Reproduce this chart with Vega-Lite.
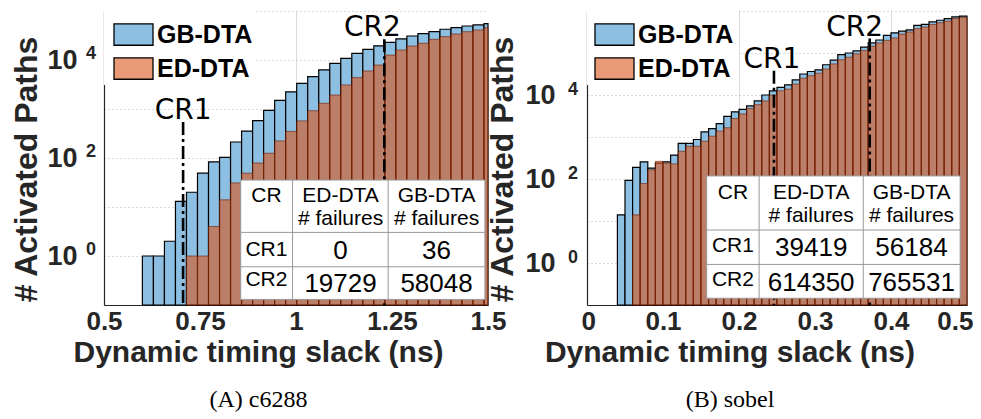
{
  "$schema": "https://vega.github.io/schema/vega-lite/v6.json",
  "background": "white",
  "padding": {"left": 10, "top": 11, "right": 5, "bottom": 5},
  "bounds": "flush",
  "spacing": 99,
  "config": {"view": {"stroke": null}, "font": "Liberation Sans"},
  "resolve": {"scale": {"color": "independent"}, "legend": {"color": "independent"}},
  "datasets": {
    "c6288": [
      {"lo": 0.6, "hi": 0.6287, "gb": 1, "ed": 0},
      {"lo": 0.6287, "hi": 0.6574, "gb": 1, "ed": 0},
      {"lo": 0.6574, "hi": 0.6861, "gb": 2, "ed": 0},
      {"lo": 0.6861, "hi": 0.7148, "gb": 13, "ed": 0},
      {"lo": 0.7148, "hi": 0.7435, "gb": 20, "ed": 1},
      {"lo": 0.7435, "hi": 0.7722, "gb": 49, "ed": 1},
      {"lo": 0.7722, "hi": 0.8009, "gb": 83, "ed": 4},
      {"lo": 0.8009, "hi": 0.8296, "gb": 103, "ed": 14},
      {"lo": 0.8296, "hi": 0.8583, "gb": 212, "ed": 31},
      {"lo": 0.8583, "hi": 0.887, "gb": 355, "ed": 49},
      {"lo": 0.887, "hi": 0.9157, "gb": 577, "ed": 79},
      {"lo": 0.9157, "hi": 0.9444, "gb": 940, "ed": 125},
      {"lo": 0.9444, "hi": 0.9731, "gb": 1500, "ed": 223},
      {"lo": 0.9731, "hi": 1.0018, "gb": 2230, "ed": 348},
      {"lo": 1.0018, "hi": 1.0305, "gb": 3330, "ed": 572},
      {"lo": 1.0305, "hi": 1.0592, "gb": 4570, "ed": 920},
      {"lo": 1.0592, "hi": 1.0879, "gb": 6310, "ed": 1310},
      {"lo": 1.0879, "hi": 1.1166, "gb": 8530, "ed": 1930},
      {"lo": 1.1166, "hi": 1.1453, "gb": 10800, "ed": 3090},
      {"lo": 1.1453, "hi": 1.174, "gb": 13700, "ed": 4370},
      {"lo": 1.174, "hi": 1.2027, "gb": 16500, "ed": 5980},
      {"lo": 1.2027, "hi": 1.2314, "gb": 19500, "ed": 7900},
      {"lo": 1.2314, "hi": 1.2601, "gb": 23000, "ed": 12600},
      {"lo": 1.2601, "hi": 1.2888, "gb": 27100, "ed": 16000},
      {"lo": 1.2888, "hi": 1.3175, "gb": 30900, "ed": 19300},
      {"lo": 1.3175, "hi": 1.3462, "gb": 34500, "ed": 22000},
      {"lo": 1.3462, "hi": 1.3749, "gb": 37800, "ed": 26400},
      {"lo": 1.3749, "hi": 1.4036, "gb": 42400, "ed": 30000},
      {"lo": 1.4036, "hi": 1.4323, "gb": 45600, "ed": 34000},
      {"lo": 1.4323, "hi": 1.461, "gb": 49400, "ed": 37800},
      {"lo": 1.461, "hi": 1.4897, "gb": 52000, "ed": 40900},
      {"lo": 1.4897, "hi": 1.5, "gb": 55000, "ed": 45600}
    ],
    "sobel": [
      {"lo": 0.04, "hi": 0.05, "gb": 14, "ed": 0},
      {"lo": 0.05, "hi": 0.06, "gb": 93, "ed": 0},
      {"lo": 0.06, "hi": 0.07, "gb": 190, "ed": 14},
      {"lo": 0.07, "hi": 0.08, "gb": 257, "ed": 78},
      {"lo": 0.08, "hi": 0.09, "gb": 182, "ed": 166},
      {"lo": 0.09, "hi": 0.1, "gb": 240, "ed": 263},
      {"lo": 0.1, "hi": 0.11, "gb": 257, "ed": 240},
      {"lo": 0.11, "hi": 0.12, "gb": 372, "ed": 229},
      {"lo": 0.12, "hi": 0.13, "gb": 708, "ed": 457},
      {"lo": 0.13, "hi": 0.14, "gb": 708, "ed": 603},
      {"lo": 0.14, "hi": 0.15, "gb": 871, "ed": 603},
      {"lo": 0.15, "hi": 0.16, "gb": 1318, "ed": 794},
      {"lo": 0.16, "hi": 0.17, "gb": 1585, "ed": 1047},
      {"lo": 0.17, "hi": 0.18, "gb": 2089, "ed": 1380},
      {"lo": 0.18, "hi": 0.19, "gb": 3090, "ed": 1660},
      {"lo": 0.19, "hi": 0.2, "gb": 3981, "ed": 2754},
      {"lo": 0.2, "hi": 0.21, "gb": 4571, "ed": 3548},
      {"lo": 0.21, "hi": 0.22, "gb": 5495, "ed": 4786},
      {"lo": 0.22, "hi": 0.23, "gb": 7244, "ed": 5888},
      {"lo": 0.23, "hi": 0.24, "gb": 10000, "ed": 7244},
      {"lo": 0.24, "hi": 0.25, "gb": 12589, "ed": 10000},
      {"lo": 0.25, "hi": 0.26, "gb": 15136, "ed": 12589},
      {"lo": 0.26, "hi": 0.27, "gb": 17378, "ed": 13804},
      {"lo": 0.27, "hi": 0.28, "gb": 22909, "ed": 18197},
      {"lo": 0.28, "hi": 0.29, "gb": 31623, "ed": 25119},
      {"lo": 0.29, "hi": 0.3, "gb": 36308, "ed": 28840},
      {"lo": 0.3, "hi": 0.31, "gb": 39811, "ed": 33113},
      {"lo": 0.31, "hi": 0.32, "gb": 52481, "ed": 41687},
      {"lo": 0.32, "hi": 0.33, "gb": 67608, "ed": 54954},
      {"lo": 0.33, "hi": 0.34, "gb": 91201, "ed": 69183},
      {"lo": 0.34, "hi": 0.35, "gb": 100000, "ed": 79433},
      {"lo": 0.35, "hi": 0.36, "gb": 112202, "ed": 95499},
      {"lo": 0.36, "hi": 0.37, "gb": 138038, "ed": 114815},
      {"lo": 0.37, "hi": 0.38, "gb": 173780, "ed": 144544},
      {"lo": 0.38, "hi": 0.39, "gb": 204174, "ed": 173780},
      {"lo": 0.39, "hi": 0.4, "gb": 263027, "ed": 199526},
      {"lo": 0.4, "hi": 0.41, "gb": 301995, "ed": 229087},
      {"lo": 0.41, "hi": 0.42, "gb": 331131, "ed": 281838},
      {"lo": 0.42, "hi": 0.43, "gb": 354813, "ed": 316228},
      {"lo": 0.43, "hi": 0.44, "gb": 457088, "ed": 380189},
      {"lo": 0.44, "hi": 0.45, "gb": 478630, "ed": 416869},
      {"lo": 0.45, "hi": 0.46, "gb": 549541, "ed": 478630},
      {"lo": 0.46, "hi": 0.47, "gb": 602560, "ed": 524807},
      {"lo": 0.47, "hi": 0.48, "gb": 660693, "ed": 575440},
      {"lo": 0.48, "hi": 0.49, "gb": 724436, "ed": 660693},
      {"lo": 0.49, "hi": 0.5, "gb": 758578, "ed": 707946}
    ],
    "crA": [
      {"cr": "CR1", "slack": 0.706, "top": 540},
      {"cr": "CR2", "slack": 1.23, "top": 26500}
    ],
    "crB": [
      {"cr": "CR1", "slack": 0.246, "top": 38000},
      {"cr": "CR2", "slack": 0.372, "top": 220000}
    ],
    "tableA": [
      {"cr": "CR1", "ed": 0, "gb": 36},
      {"cr": "CR2", "ed": 19729, "gb": 58048}
    ],
    "tableB": [
      {"cr": "CR1", "ed": 39419, "gb": 56184},
      {"cr": "CR2", "ed": 614350, "gb": 765531}
    ],
    "powA": [
      {"p": 1, "e": "0"},
      {"p": 100, "e": "2"},
      {"p": 10000, "e": "4"}
    ],
    "powB": [
      {"p": 1, "e": "0"},
      {"p": 100, "e": "2"},
      {"p": 10000, "e": "4"}
    ]
  },
  "hconcat": [
    {
      "width": 384,
      "height": 294,
      "title": {
        "text": "Dynamic timing slack (ns)",
        "subtitle": "(A) c6288",
        "orient": "bottom",
        "anchor": "middle",
        "frame": "bounds",
        "offset": 4,
        "font": "Liberation Sans",
        "fontSize": 30,
        "fontWeight": "bold",
        "color": "#262626",
        "subtitleFont": "Liberation Serif",
        "subtitleFontSize": 24,
        "subtitleColor": "black",
        "subtitlePadding": 20
      },
      "layer": [
        {
          "layer": [
            {
              "data": {"name": "c6288"},
              "mark": {"type": "bar", "fill": "#8DBFE2", "stroke": "black", "strokeWidth": 1.2},
              "encoding": {
                "x": {
                  "field": "lo", "type": "quantitative",
                  "scale": {"domain": [0.5, 1.5], "nice": false, "zero": false},
                  "axis": {
                    "values": [0.5, 0.75, 1, 1.25, 1.5], "labelExpr": "toString(datum.value)", "title": null,
                    "labelFont": "Liberation Sans", "labelFontWeight": "bold", "labelFontSize": 26,
                    "labelColor": "#262626", "labelPadding": 3, "labelFlush": false, "labelOverlap": false,
                    "ticks": false, "domainColor": "#262626", "domainWidth": 1.2,
                    "grid": true,
                    "gridColor": {"condition": {"test": "datum.value == 1", "value": "#dcdcdc"}, "value": "transparent"}
                  }
                },
                "x2": {"field": "hi"},
                "y": {
                  "field": "gb", "type": "quantitative",
                  "scale": {"type": "log", "domain": [0.1, 100000], "nice": false},
                  "axis": {
                    "values": [0.1, 1, 10, 100, 1000, 10000, 100000],
                    "labelExpr": "datum.value == 1 || datum.value == 100 || datum.value == 10000 ? '10' : ''",
                    "title": "# Activated Paths",
                    "labelFont": "Liberation Sans", "labelFontWeight": "bold", "labelFontSize": 27,
                    "labelColor": "#262626", "labelPadding": 27, "labelBaseline": "middle",
                    "ticks": false, "domainColor": "#262626", "domainWidth": 1.2,
                    "grid": true, "gridDash": [1, 3], "gridColor": "#b4b4b4",
                    "titleFont": "Liberation Sans", "titleFontSize": 32, "titleFontWeight": "bold",
                    "titleColor": "#262626", "titlePadding": 3, "titleY": 158
                  }
                },
                "y2": {"datum": 0.1},
                "color": {
                  "datum": "GB-DTA",
                  "scale": {"domain": ["GB-DTA", "ED-DTA"], "range": ["#8DBFE2", "#E89A76"]},
                  "legend": {
                    "title": null, "orient": "top-left", "offset": 0, "padding": 3,
                    "fillColor": "white",
                    "symbolType": "M-1,-0.55L1,-0.55L1,0.55L-1,0.55Z", "symbolSize": 1521,
                    "symbolOffset": 6, "symbolStrokeWidth": 1.3,
                    "labelFont": "Liberation Sans", "labelFontSize": 25, "labelFontWeight": "bold",
                    "labelColor": "black", "labelOffset": 3, "rowPadding": -8,
                    "encode": {
                      "symbols": {
                        "stroke": {"condition": {"test": "datum.value === 'GB-DTA'", "value": "black"}, "value": "transparent"}
                      }
                    }
                  }
                }
              }
            },
            {
              "data": {"name": "c6288"},
              "transform": [{"filter": "datum.ed > 0"}],
              "mark": {"type": "bar", "fill": "#D95319", "fillOpacity": 0.6, "stroke": "#6e1c00", "strokeOpacity": 0.6, "strokeWidth": 1},
              "encoding": {
                "x": {"field": "lo", "type": "quantitative", "scale": {"domain": [0.5, 1.5], "nice": false, "zero": false}},
                "x2": {"field": "hi"},
                "y": {"field": "ed", "type": "quantitative", "scale": {"type": "log", "domain": [0.1, 100000], "nice": false}},
                "y2": {"datum": 0.1},
                "color": {"datum": "ED-DTA"}
              }
            },
            {
              "data": {"name": "crA"},
              "mark": {"type": "rule", "color": "black", "strokeWidth": 2.6, "strokeDash": [13, 4, 3, 4]},
              "encoding": {
                "x": {"field": "slack", "type": "quantitative", "scale": {"domain": [0.5, 1.5], "nice": false, "zero": false}},
                "y": {"field": "top", "type": "quantitative", "scale": {"type": "log", "domain": [0.1, 100000], "nice": false}},
                "y2": {"datum": 0.1}
              }
            },
            {
              "data": {"name": "crA"},
              "transform": [{"filter": "datum.cr == 'CR1'"}],
              "mark": {"type": "text", "font": "DejaVu Sans", "fontSize": 28, "baseline": "alphabetic", "align": "center", "dy": -3, "color": "black"},
              "encoding": {
                "x": {"field": "slack", "type": "quantitative", "scale": {"domain": [0.5, 1.5], "nice": false, "zero": false}},
                "y": {"field": "top", "type": "quantitative", "scale": {"type": "log", "domain": [0.1, 100000], "nice": false}},
                "text": {"field": "cr"}
              }
            },
            {
              "data": {"name": "crA"},
              "transform": [{"filter": "datum.cr == 'CR2'"}],
              "mark": {"type": "text", "font": "DejaVu Sans", "fontSize": 28, "baseline": "alphabetic", "align": "center", "dy": -3, "dx": -12, "color": "black"},
              "encoding": {
                "x": {"field": "slack", "type": "quantitative", "scale": {"domain": [0.5, 1.5], "nice": false, "zero": false}},
                "y": {"field": "top", "type": "quantitative", "scale": {"type": "log", "domain": [0.1, 100000], "nice": false}},
                "text": {"field": "cr"}
              }
            },
            {
              "data": {"name": "powA"},
              "mark": {"type": "text", "font": "Liberation Sans", "fontWeight": "bold", "fontSize": 18, "color": "#262626", "baseline": "middle", "align": "center", "dx": -13, "dy": -6},
              "encoding": {
                "x": {"datum": 0.5, "type": "quantitative", "scale": {"domain": [0.5, 1.5], "nice": false, "zero": false}},
                "y": {"field": "p", "type": "quantitative", "scale": {"type": "log", "domain": [0.1, 100000], "nice": false}},
                "text": {"field": "e"}
              }
            }
          ]
        },
        {
          "data": {"name": "tableA"},
          "layer": [
            {
              "transform": [{"filter": "datum.cr == 'CR1'"}],
              "mark": {"type": "rect", "fill": "white", "stroke": "#999999", "strokeWidth": 1},
              "encoding": {
                "x": {"datum": 0.356, "type": "quantitative", "scale": {"domain": [0, 1], "nice": false, "zero": false}, "axis": null},
                "x2": {"datum": 0.992},
                "y": {"datum": 0.019, "type": "quantitative", "scale": {"domain": [0, 1], "nice": false, "zero": false}, "axis": null},
                "y2": {"datum": 0.425}
              }
            },
            {
              "transform": [{"filter": "datum.cr == 'CR1'"}],
              "mark": {"type": "rule", "color": "#999999", "strokeWidth": 1},
              "encoding": {
                "x": {"datum": 0.491, "type": "quantitative", "axis": null},
                "y": {"datum": 0.019, "type": "quantitative", "axis": null},
                "y2": {"datum": 0.425}
              }
            },
            {
              "transform": [{"filter": "datum.cr == 'CR1'"}],
              "mark": {"type": "rule", "color": "#999999", "strokeWidth": 1},
              "encoding": {
                "x": {"datum": 0.74, "type": "quantitative", "axis": null},
                "y": {"datum": 0.019, "type": "quantitative", "axis": null},
                "y2": {"datum": 0.425}
              }
            },
            {
              "transform": [{"filter": "datum.cr == 'CR1'"}],
              "mark": {"type": "rule", "color": "#999999", "strokeWidth": 1},
              "encoding": {
                "x": {"datum": 0.356, "type": "quantitative", "axis": null},
                "x2": {"datum": 0.992},
                "y": {"datum": 0.247, "type": "quantitative", "axis": null}
              }
            },
            {
              "transform": [{"filter": "datum.cr == 'CR1'"}],
              "mark": {"type": "rule", "color": "#999999", "strokeWidth": 1},
              "encoding": {
                "x": {"datum": 0.356, "type": "quantitative", "axis": null},
                "x2": {"datum": 0.992},
                "y": {"datum": 0.13, "type": "quantitative", "axis": null}
              }
            },
            {
              "transform": [{"filter": "datum.cr == 'CR1'"}],
              "mark": {"type": "text", "text": "CR", "font": "Liberation Sans", "fontSize": 21, "baseline": "alphabetic", "align": "center", "color": "black"},
              "encoding": {
                "x": {"datum": 0.423, "type": "quantitative", "axis": null},
                "y": {"datum": 0.349, "type": "quantitative", "axis": null}
              }
            },
            {
              "transform": [{"filter": "datum.cr == 'CR1'"}],
              "mark": {"type": "text", "text": ["ED-DTA", "# failures"], "lineHeight": 23, "font": "Liberation Sans", "fontSize": 21, "baseline": "alphabetic", "align": "center", "color": "black"},
              "encoding": {
                "x": {"datum": 0.616, "type": "quantitative", "axis": null},
                "y": {"datum": 0.349, "type": "quantitative", "axis": null}
              }
            },
            {
              "transform": [{"filter": "datum.cr == 'CR1'"}],
              "mark": {"type": "text", "text": ["GB-DTA", "# failures"], "lineHeight": 23, "font": "Liberation Sans", "fontSize": 21, "baseline": "alphabetic", "align": "center", "color": "black"},
              "encoding": {
                "x": {"datum": 0.866, "type": "quantitative", "axis": null},
                "y": {"datum": 0.349, "type": "quantitative", "axis": null}
              }
            },
            {
              "transform": [{"filter": "datum.cr == 'CR1'"}],
              "mark": {"type": "text", "font": "Liberation Sans", "fontSize": 21, "baseline": "alphabetic", "align": "center", "color": "black"},
              "encoding": {
                "x": {"datum": 0.423, "type": "quantitative", "axis": null},
                "y": {"datum": 0.168, "type": "quantitative", "axis": null},
                "text": {"field": "cr", "type": "nominal"}
              }
            },
            {
              "transform": [{"filter": "datum.cr == 'CR2'"}],
              "mark": {"type": "text", "font": "Liberation Sans", "fontSize": 21, "baseline": "alphabetic", "align": "center", "color": "black"},
              "encoding": {
                "x": {"datum": 0.423, "type": "quantitative", "axis": null},
                "y": {"datum": 0.066, "type": "quantitative", "axis": null},
                "text": {"field": "cr", "type": "nominal"}
              }
            },
            {
              "transform": [{"filter": "datum.cr == 'CR1'"}],
              "mark": {"type": "text", "font": "Liberation Sans", "fontSize": 26, "baseline": "alphabetic", "align": "center", "color": "black"},
              "encoding": {
                "x": {"datum": 0.616, "type": "quantitative", "axis": null},
                "y": {"datum": 0.157, "type": "quantitative", "axis": null},
                "text": {"field": "ed", "type": "nominal"}
              }
            },
            {
              "transform": [{"filter": "datum.cr == 'CR1'"}],
              "mark": {"type": "text", "font": "Liberation Sans", "fontSize": 26, "baseline": "alphabetic", "align": "center", "color": "black"},
              "encoding": {
                "x": {"datum": 0.866, "type": "quantitative", "axis": null},
                "y": {"datum": 0.157, "type": "quantitative", "axis": null},
                "text": {"field": "gb", "type": "nominal"}
              }
            },
            {
              "transform": [{"filter": "datum.cr == 'CR2'"}],
              "mark": {"type": "text", "font": "Liberation Sans", "fontSize": 26, "baseline": "alphabetic", "align": "center", "color": "black"},
              "encoding": {
                "x": {"datum": 0.616, "type": "quantitative", "axis": null},
                "y": {"datum": 0.043, "type": "quantitative", "axis": null},
                "text": {"field": "ed", "type": "nominal"}
              }
            },
            {
              "transform": [{"filter": "datum.cr == 'CR2'"}],
              "mark": {"type": "text", "font": "Liberation Sans", "fontSize": 26, "baseline": "alphabetic", "align": "center", "color": "black"},
              "encoding": {
                "x": {"datum": 0.866, "type": "quantitative", "axis": null},
                "y": {"datum": 0.043, "type": "quantitative", "axis": null},
                "text": {"field": "gb", "type": "nominal"}
              }
            }
          ]
        }
      ],
      "resolve": {"scale": {"x": "independent", "y": "independent"}}
    },
    {
      "width": 380,
      "height": 294,
      "title": {
        "text": "Dynamic timing slack (ns)",
        "subtitle": "(B) sobel",
        "orient": "bottom",
        "anchor": "middle",
        "frame": "bounds",
        "offset": 4,
        "font": "Liberation Sans",
        "fontSize": 30,
        "fontWeight": "bold",
        "color": "#262626",
        "subtitleFont": "Liberation Serif",
        "subtitleFontSize": 24,
        "subtitleColor": "black",
        "subtitlePadding": 20
      },
      "layer": [
        {
          "layer": [
            {
              "data": {"name": "sobel"},
              "mark": {"type": "bar", "fill": "#8DBFE2", "stroke": "black", "strokeWidth": 1.2},
              "encoding": {
                "x": {
                  "field": "lo", "type": "quantitative",
                  "scale": {"domain": [0, 0.5], "nice": false, "zero": false},
                  "axis": {
                    "values": [0, 0.1, 0.2, 0.3, 0.4, 0.5], "labelExpr": "toString(datum.value)", "title": null,
                    "labelFont": "Liberation Sans", "labelFontWeight": "bold", "labelFontSize": 26,
                    "labelColor": "#262626", "labelPadding": 3, "labelFlush": true, "labelFlushOffset": 6, "labelOverlap": false,
                    "ticks": false, "domainColor": "#262626", "domainWidth": 1.2,
                    "grid": true,
                    "gridColor": {"condition": {"test": "abs(datum.value - 0.2) < 0.000001 || abs(datum.value - 0.4) < 0.000001", "value": "#dcdcdc"}, "value": "transparent"}
                  }
                },
                "x2": {"field": "hi"},
                "y": {
                  "field": "gb", "type": "quantitative",
                  "scale": {"type": "log", "domain": [0.1, 1000000], "nice": false},
                  "axis": {
                    "values": [0.1, 1, 10, 100, 1000, 10000, 100000, 1000000],
                    "labelExpr": "datum.value == 1 || datum.value == 100 || datum.value == 10000 ? '10' : ''",
                    "title": "# Activated Paths",
                    "labelFont": "Liberation Sans", "labelFontWeight": "bold", "labelFontSize": 27,
                    "labelColor": "#262626", "labelPadding": 32, "labelBaseline": "middle",
                    "ticks": false, "domainColor": "#262626", "domainWidth": 1.2,
                    "grid": true, "gridDash": [1, 3], "gridColor": "#b4b4b4",
                    "titleFont": "Liberation Sans", "titleFontSize": 32, "titleFontWeight": "bold",
                    "titleColor": "#262626", "titlePadding": 5, "titleY": 158
                  }
                },
                "y2": {"datum": 0.1},
                "color": {
                  "datum": "GB-DTA",
                  "scale": {"domain": ["GB-DTA", "ED-DTA"], "range": ["#8DBFE2", "#E89A76"]},
                  "legend": {
                    "title": null, "orient": "top-left", "offset": 0, "padding": 3,
                    "fillColor": "white",
                    "symbolType": "M-1,-0.55L1,-0.55L1,0.55L-1,0.55Z", "symbolSize": 1521,
                    "symbolOffset": 4, "symbolStrokeWidth": 1.3,
                    "labelFont": "Liberation Sans", "labelFontSize": 25, "labelFontWeight": "bold",
                    "labelColor": "black", "labelOffset": 3, "rowPadding": -8,
                    "encode": {
                      "symbols": {
                        "stroke": {"condition": {"test": "datum.value === 'GB-DTA'", "value": "black"}, "value": "transparent"}
                      }
                    }
                  }
                }
              }
            },
            {
              "data": {"name": "sobel"},
              "transform": [{"filter": "datum.ed > 0"}],
              "mark": {"type": "bar", "fill": "#D95319", "fillOpacity": 0.6, "stroke": "#6e1c00", "strokeOpacity": 0.6, "strokeWidth": 1},
              "encoding": {
                "x": {"field": "lo", "type": "quantitative", "scale": {"domain": [0, 0.5], "nice": false, "zero": false}},
                "x2": {"field": "hi"},
                "y": {"field": "ed", "type": "quantitative", "scale": {"type": "log", "domain": [0.1, 1000000], "nice": false}},
                "y2": {"datum": 0.1},
                "color": {"datum": "ED-DTA"}
              }
            },
            {
              "data": {"name": "crB"},
              "mark": {"type": "rule", "color": "black", "strokeWidth": 2.6, "strokeDash": [13, 4, 3, 4]},
              "encoding": {
                "x": {"field": "slack", "type": "quantitative", "scale": {"domain": [0, 0.5], "nice": false, "zero": false}},
                "y": {"field": "top", "type": "quantitative", "scale": {"type": "log", "domain": [0.1, 1000000], "nice": false}},
                "y2": {"datum": 0.1}
              }
            },
            {
              "data": {"name": "crB"},
              "transform": [{"filter": "datum.cr == 'CR1'"}],
              "mark": {"type": "text", "font": "DejaVu Sans", "fontSize": 28, "baseline": "alphabetic", "align": "center", "dy": -3, "dx": -2, "color": "black"},
              "encoding": {
                "x": {"field": "slack", "type": "quantitative", "scale": {"domain": [0, 0.5], "nice": false, "zero": false}},
                "y": {"field": "top", "type": "quantitative", "scale": {"type": "log", "domain": [0.1, 1000000], "nice": false}},
                "text": {"field": "cr"}
              }
            },
            {
              "data": {"name": "crB"},
              "transform": [{"filter": "datum.cr == 'CR2'"}],
              "mark": {"type": "text", "font": "DejaVu Sans", "fontSize": 28, "baseline": "alphabetic", "align": "center", "dy": -3, "dx": -15, "color": "black"},
              "encoding": {
                "x": {"field": "slack", "type": "quantitative", "scale": {"domain": [0, 0.5], "nice": false, "zero": false}},
                "y": {"field": "top", "type": "quantitative", "scale": {"type": "log", "domain": [0.1, 1000000], "nice": false}},
                "text": {"field": "cr"}
              }
            },
            {
              "data": {"name": "powB"},
              "mark": {"type": "text", "font": "Liberation Sans", "fontWeight": "bold", "fontSize": 18, "color": "#262626", "baseline": "middle", "align": "center", "dx": -14, "dy": -5},
              "encoding": {
                "x": {"datum": 0, "type": "quantitative", "scale": {"domain": [0, 0.5], "nice": false, "zero": false}},
                "y": {"field": "p", "type": "quantitative", "scale": {"type": "log", "domain": [0.1, 1000000], "nice": false}},
                "text": {"field": "e"}
              }
            }
          ]
        },
        {
          "data": {"name": "tableB"},
          "layer": [
            {
              "transform": [{"filter": "datum.cr == 'CR1'"}],
              "mark": {"type": "rect", "fill": "white", "stroke": "#999999", "strokeWidth": 1},
              "encoding": {
                "x": {"datum": 0.315, "type": "quantitative", "scale": {"domain": [0, 1], "nice": false, "zero": false}, "axis": null},
                "x2": {"datum": 0.982},
                "y": {"datum": 0.023, "type": "quantitative", "scale": {"domain": [0, 1], "nice": false, "zero": false}, "axis": null},
                "y2": {"datum": 0.439}
              }
            },
            {
              "transform": [{"filter": "datum.cr == 'CR1'"}],
              "mark": {"type": "rule", "color": "#999999", "strokeWidth": 1},
              "encoding": {
                "x": {"datum": 0.453, "type": "quantitative", "axis": null},
                "y": {"datum": 0.023, "type": "quantitative", "axis": null},
                "y2": {"datum": 0.439}
              }
            },
            {
              "transform": [{"filter": "datum.cr == 'CR1'"}],
              "mark": {"type": "rule", "color": "#999999", "strokeWidth": 1},
              "encoding": {
                "x": {"datum": 0.727, "type": "quantitative", "axis": null},
                "y": {"datum": 0.023, "type": "quantitative", "axis": null},
                "y2": {"datum": 0.439}
              }
            },
            {
              "transform": [{"filter": "datum.cr == 'CR1'"}],
              "mark": {"type": "rule", "color": "#999999", "strokeWidth": 1},
              "encoding": {
                "x": {"datum": 0.315, "type": "quantitative", "axis": null},
                "x2": {"datum": 0.982},
                "y": {"datum": 0.255, "type": "quantitative", "axis": null}
              }
            },
            {
              "transform": [{"filter": "datum.cr == 'CR1'"}],
              "mark": {"type": "rule", "color": "#999999", "strokeWidth": 1},
              "encoding": {
                "x": {"datum": 0.315, "type": "quantitative", "axis": null},
                "x2": {"datum": 0.982},
                "y": {"datum": 0.138, "type": "quantitative", "axis": null}
              }
            },
            {
              "transform": [{"filter": "datum.cr == 'CR1'"}],
              "mark": {"type": "text", "text": "CR", "font": "Liberation Sans", "fontSize": 21, "baseline": "alphabetic", "align": "center", "color": "black"},
              "encoding": {
                "x": {"datum": 0.384, "type": "quantitative", "axis": null},
                "y": {"datum": 0.36, "type": "quantitative", "axis": null}
              }
            },
            {
              "transform": [{"filter": "datum.cr == 'CR1'"}],
              "mark": {"type": "text", "text": ["ED-DTA", "# failures"], "lineHeight": 23, "font": "Liberation Sans", "fontSize": 21, "baseline": "alphabetic", "align": "center", "color": "black"},
              "encoding": {
                "x": {"datum": 0.59, "type": "quantitative", "axis": null},
                "y": {"datum": 0.36, "type": "quantitative", "axis": null}
              }
            },
            {
              "transform": [{"filter": "datum.cr == 'CR1'"}],
              "mark": {"type": "text", "text": ["GB-DTA", "# failures"], "lineHeight": 23, "font": "Liberation Sans", "fontSize": 21, "baseline": "alphabetic", "align": "center", "color": "black"},
              "encoding": {
                "x": {"datum": 0.854, "type": "quantitative", "axis": null},
                "y": {"datum": 0.36, "type": "quantitative", "axis": null}
              }
            },
            {
              "transform": [{"filter": "datum.cr == 'CR1'"}],
              "mark": {"type": "text", "font": "Liberation Sans", "fontSize": 21, "baseline": "alphabetic", "align": "center", "color": "black"},
              "encoding": {
                "x": {"datum": 0.384, "type": "quantitative", "axis": null},
                "y": {"datum": 0.179, "type": "quantitative", "axis": null},
                "text": {"field": "cr", "type": "nominal"}
              }
            },
            {
              "transform": [{"filter": "datum.cr == 'CR2'"}],
              "mark": {"type": "text", "font": "Liberation Sans", "fontSize": 21, "baseline": "alphabetic", "align": "center", "color": "black"},
              "encoding": {
                "x": {"datum": 0.384, "type": "quantitative", "axis": null},
                "y": {"datum": 0.065, "type": "quantitative", "axis": null},
                "text": {"field": "cr", "type": "nominal"}
              }
            },
            {
              "transform": [{"filter": "datum.cr == 'CR1'"}],
              "mark": {"type": "text", "font": "Liberation Sans", "fontSize": 26, "baseline": "alphabetic", "align": "center", "color": "black"},
              "encoding": {
                "x": {"datum": 0.59, "type": "quantitative", "axis": null},
                "y": {"datum": 0.167, "type": "quantitative", "axis": null},
                "text": {"field": "ed", "type": "nominal"}
              }
            },
            {
              "transform": [{"filter": "datum.cr == 'CR1'"}],
              "mark": {"type": "text", "font": "Liberation Sans", "fontSize": 26, "baseline": "alphabetic", "align": "center", "color": "black"},
              "encoding": {
                "x": {"datum": 0.854, "type": "quantitative", "axis": null},
                "y": {"datum": 0.167, "type": "quantitative", "axis": null},
                "text": {"field": "gb", "type": "nominal"}
              }
            },
            {
              "transform": [{"filter": "datum.cr == 'CR2'"}],
              "mark": {"type": "text", "font": "Liberation Sans", "fontSize": 26, "baseline": "alphabetic", "align": "center", "color": "black"},
              "encoding": {
                "x": {"datum": 0.59, "type": "quantitative", "axis": null},
                "y": {"datum": 0.048, "type": "quantitative", "axis": null},
                "text": {"field": "ed", "type": "nominal"}
              }
            },
            {
              "transform": [{"filter": "datum.cr == 'CR2'"}],
              "mark": {"type": "text", "font": "Liberation Sans", "fontSize": 26, "baseline": "alphabetic", "align": "center", "color": "black"},
              "encoding": {
                "x": {"datum": 0.854, "type": "quantitative", "axis": null},
                "y": {"datum": 0.048, "type": "quantitative", "axis": null},
                "text": {"field": "gb", "type": "nominal"}
              }
            }
          ]
        }
      ],
      "resolve": {"scale": {"x": "independent", "y": "independent"}}
    }
  ]
}
